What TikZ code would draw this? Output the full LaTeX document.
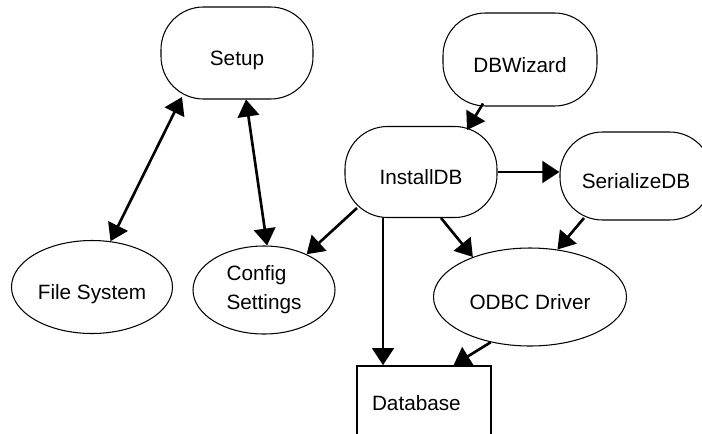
\documentclass[tikz,border=0pt]{standalone}
\usepackage{fontspec}
\setmainfont{Liberation Sans}
\usepackage{tikz}
\usetikzlibrary{arrows.meta,shapes.geometric,calc}

\begin{document}
\begin{tikzpicture}[
  font=\fontsize{11.8}{16.5}\selectfont,
  roundbox/.style={draw, line width=0.6pt, rounded corners=0.85cm, minimum width=3.04cm, minimum height=1.84cm, inner sep=0pt, text height=0.55cm, text depth=0.05cm},
  ovalnode/.style={draw, ellipse, line width=0.6pt, inner sep=0pt, align=left},
  lowtext/.style={text height=0.55cm, text depth=0.05cm},
  dbbox/.style={draw, line width=0.9pt, minimum width=2.68cm, minimum height=1.48cm, inner xsep=0.3cm, text width=2.08cm, align=left},
  arr/.style={-{Triangle[length=3.4mm, width=4.3mm]}, line width=1.5pt},
  dblarr/.style={{Triangle[length=3.4mm, width=4.3mm]}-{Triangle[length=3.4mm, width=4.3mm]}, line width=1.5pt}
]
\clip (0,0) rectangle (14.04,-8.66);
\node[roundbox] (Setup) at (4.74,-1.06) {Setup};
\node[roundbox, minimum width=3.08cm, minimum height=1.86cm] (DBWizard) at (10.4,-1.19) {DBWizard};
\node[roundbox, minimum height=1.82cm] (InstallDB) at (8.42,-3.44) {InstallDB};
\node[roundbox, minimum height=1.76cm] (SerializeDB) at (12.72,-3.52) {SerializeDB};
\node[ovalnode, lowtext, minimum width=3.22cm, minimum height=1.86cm] (FileSys) at (1.84,-5.74) {File System};
\node[ovalnode, minimum width=2.84cm, minimum height=1.76cm] (Config) at (5.28,-5.8) {Config\\Settings};
\node[ovalnode, lowtext, minimum width=3.86cm, minimum height=1.96cm] (ODBC) at (10.6,-5.94) {ODBC Driver};
\node[dbbox] (Database) at (8.48,-8.06) {Database};
\coordinate (dbtop) at ($(InstallDB.south)+(-0.76,0)$);

\draw[dblarr] (FileSys.68)--($(Setup.center)+(-1.1,-0.88)$);
\draw[dblarr] ($(Setup.south)+(0.18,0)$)--(Config.86);
\draw[arr] ($(InstallDB.center)+(-1.28,-0.72)$)--(Config.40);
\draw[arr] ($(DBWizard.center)+(-0.74,-0.88)$)--($(InstallDB.center)+(0.92,0.84)$);
\draw[arr] (InstallDB.east)--(InstallDB.east-|SerializeDB.west);
\draw[arr] ($(InstallDB.south)+(0.4,0)$)--(ODBC.145);
\draw[arr] ($(SerializeDB.center)+(-1.04,-0.84)$)--(ODBC.60);
\draw[arr] (dbtop)--(dbtop|-Database.north);
\draw[arr] (ODBC.229)--(Database.52);
\end{tikzpicture}
\end{document}
